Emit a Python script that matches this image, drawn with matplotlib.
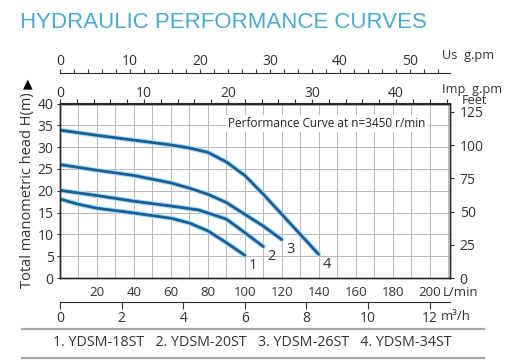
import numpy as np
import matplotlib
matplotlib.use("Agg")
import matplotlib.pyplot as plt
import matplotlib.patheffects as pe
from matplotlib.lines import Line2D

# ---------------- data ----------------
flow1 = [0, 10, 20, 40, 60, 70, 80, 90, 100]
head1 = [18.1, 16.9, 16.0, 14.9, 13.7, 12.6, 10.8, 8.1, 5.2]
flow2 = [0, 20, 40, 60, 75, 90, 100, 110]
head2 = [20.1, 18.9, 17.6, 16.5, 15.6, 13.5, 10.4, 7.2]
flow3 = [0, 20, 40, 60, 70, 80, 90, 100, 110, 120]
head3 = [26.0, 24.7, 23.5, 21.8, 20.6, 19.2, 17.3, 14.6, 11.9, 8.8]
flow4 = [0, 20, 40, 60, 70, 80, 90, 100, 110, 120, 130, 140]
head4 = [33.9, 32.7, 31.6, 30.5, 29.8, 28.8, 26.6, 23.5, 19.2, 14.6, 10.0, 5.4]
curve_ids = ["1", "2", "3", "4"]
models = ["YDSM-18ST", "YDSM-20ST", "YDSM-26ST", "YDSM-34ST"]

lmin_ticks = [20, 40, 60, 80, 100, 120, 140, 160, 180, 200]
m_ticks = [0, 5, 10, 15, 20, 25, 30, 35, 40]
feet_ticks = [0, 25, 50, 75, 100, 125]
imp_ticks = [0, 10, 20, 30, 40]
us_ticks = [0, 10, 20, 30, 40, 50]
m3h_ticks = [0, 2, 4, 6, 8, 10, 12]

FONT = ["Open Sans", "DejaVu Sans"]
plt.rcParams["font.family"] = FONT

W, H = 511, 363
fig = plt.figure(figsize=(W / 100, H / 100), dpi=100)

# main axes in pixel layout
L, R, T, B = 60, 450, 103.5, 278
ax = fig.add_axes([L / W, 1 - B / H, (R - L) / W, (B - T) / H])
XMAX = 211
ax.set_xlim(0, XMAX)
ax.set_ylim(0, 40)

spine_col = "#2a2a2a"
for s in ax.spines.values():
    s.set_color(spine_col)
    s.set_linewidth(1.0)

ax.set_xticks(lmin_ticks)
ax.set_xticks(np.arange(10, 211, 10), minor=True)
ax.tick_params(axis="x", which="both", length=0, pad=6, labelsize=9.5, colors="#333333")
ax.set_yticks(m_ticks)
ax.tick_params(axis="y", which="major", length=2.5, width=0.8, pad=2, labelsize=10, colors="#333333")
ax.grid(True, which="both", axis="x", color="#b8b8b8", lw=0.7)
ax.grid(True, which="major", axis="y", color="#b8b8b8", lw=0.7)
ax.set_axisbelow(True)

# L/min unit label
ax.text(207, -(296.5 - B) / (B - T), "L/min", transform=ax.get_xaxis_transform(),
        ha="left", va="baseline", fontsize=9.5, color="#333333")

# curves
halo = [pe.Stroke(linewidth=3.6, foreground="#a9def3"), pe.Normal()]
for fl, hd, cid in zip([flow1, flow2, flow3, flow4], [head1, head2, head3, head4], curve_ids):
    ax.plot(fl, hd, color="#1b5d96", lw=2.0, solid_capstyle="round",
            path_effects=halo, zorder=4)
    ax.annotate(cid, (fl[-1], hd[-1]), xytext=(3, -7), textcoords="offset points",
                ha="left", va="center", fontsize=10.5, color="#333333")

# performance text
ax.text(91, 35.5, "Performance Curve at n=3450 r/min", ha="left", va="center",
        fontsize=8.5, color="#222222", zorder=3,
        bbox=dict(facecolor="white", edgecolor="none", pad=1.5))

# right axis (feet)
ax2 = ax.twinx()
ax2.set_ylim(0, 40 * 3.28084)
ax2.set_yticks(feet_ticks)
ax2.tick_params(axis="y", length=3, width=0.8, pad=4, labelsize=10, colors="#333333")
for s in ax2.spines.values():
    s.set_color(spine_col)
    s.set_linewidth(1.0)

# Imp gallons axis (top spine)
imp = ax.secondary_xaxis("top", functions=(lambda x: x / 4.54609, lambda x: x * 4.54609))
imp.set_xticks(imp_ticks)
imp.set_xticks(np.arange(0, 47, 2), minor=True)
imp.tick_params(which="both", direction="out", length=3, width=0.8, pad=-1,
                labelsize=10, colors="#333333")
imp.spines["top"].set_color(spine_col)

# US gallons axis
us_loc = 1 + (T - 72.7) / (B - T)
us = ax.secondary_xaxis(us_loc, functions=(lambda x: x / 3.78541, lambda x: x * 3.78541))
us.set_xticks(us_ticks)
us.set_xticks(np.arange(0, 55, 2), minor=True)
us.tick_params(which="both", direction="out", length=3, width=0.8, pad=-0.5,
               labelsize=10, colors="#333333")
us.spines["top"].set_color(spine_col)

# m3/h axis
m3_loc = -(301.7 - B) / (B - T)
m3 = ax.secondary_xaxis(m3_loc, functions=(lambda x: x * 0.06, lambda x: x / 0.06))
m3.set_xticks(m3h_ticks)
m3.tick_params(which="major", direction="out", length=5, width=0.8, pad=1.5,
               labelsize=10, colors="#333333")
m3.spines["bottom"].set_color(spine_col)
ax.text(200 + 6, -(320 - B) / (B - T), "m³/h", transform=ax.get_xaxis_transform(),
        ha="left", va="baseline", fontsize=9.5, color="#333333")

# unit labels at top right
fig.text(442 / W, 1 - 55 / H, "Us  g.pm", ha="left", va="center", fontsize=9.2, color="#333333")
fig.text(442 / W, 1 - 89 / H, "Imp  g.pm", ha="left", va="center", fontsize=9.2, color="#333333")
fig.text(462 / W, 1 - 101 / H, "Feet", ha="left", va="center", fontsize=9.2, color="#333333")

# y label and arrow
fig.text(28 / W, 1 - 190 / H, "Total manometric head H(m)", rotation=90,
         ha="center", va="center", fontsize=10.5, color="#333333")
fig.text(28 / W, 1 - 84 / H, "▲", ha="center", va="center", fontsize=9,
         color="black", family="DejaVu Sans")

# title
fig.text(20 / W, 1 - 23 / H, "HYDRAULIC PERFORMANCE CURVES", ha="left", va="center",
         fontsize=16, color="#4aa9cf", family=["Liberation Sans", "DejaVu Sans"])

# separators and legend
for yy in (329, 358):
    fig.add_artist(Line2D([22 / W, 484 / W], [1 - yy / H, 1 - yy / H],
                          color="#a8a8a8", lw=1.6))
legend_txt = "   ".join(f"{c}. {m}" for c, m in zip(curve_ids, models))
fig.text(252.5 / W, 1 - 343 / H, legend_txt, ha="center", va="center",
         fontsize=10.3, color="#333333")

fig.savefig("out.png", dpi=100)
